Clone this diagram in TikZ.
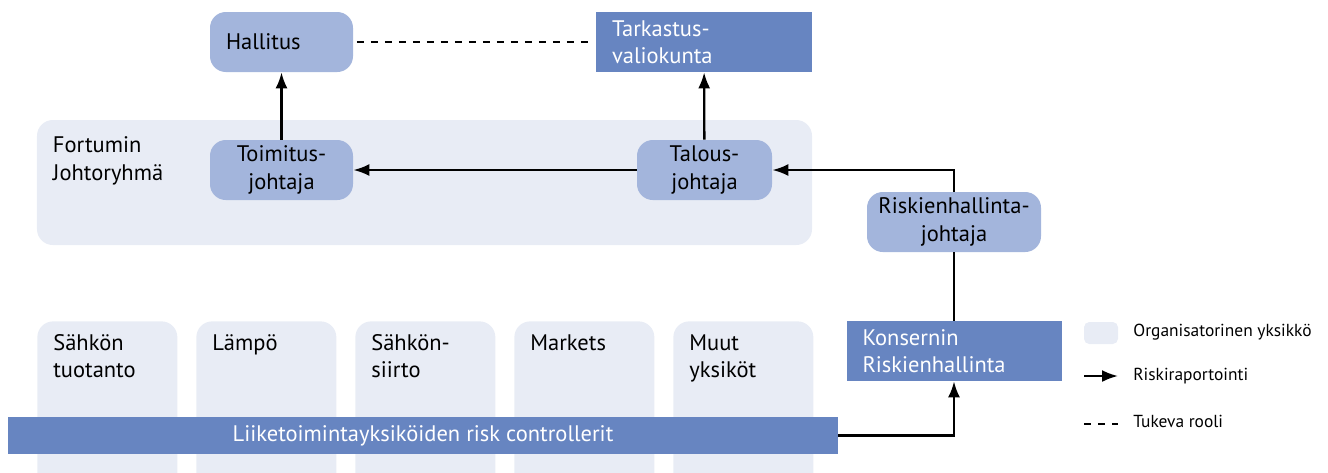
\documentclass[tikz,border=0pt]{standalone}
\usepackage{fontspec}
\setmainfont{PT Sans}
\usetikzlibrary{arrows.meta,positioning,calc}
\definecolor{unitlight}{HTML}{E8ECF5}
\definecolor{rolemid}{HTML}{A3B5DC}
\definecolor{groupdark}{HTML}{6785C1}
\tikzset{
  >=Latex,
  role/.style={
    rectangle, rounded corners=9pt, fill=rolemid, inner sep=0pt,
    minimum height=1.2cm, align=center,
    font=\fontsize{12.8}{15.6}\selectfont
  },
  roleleft/.style={role, align=left, text width=#1, inner xsep=0.32cm},
  group/.style={
    rectangle, fill=groupdark, inner sep=0pt, text=white,
    minimum height=1.2cm, align=left, text width=#1, inner xsep=0.32cm,
    font=\fontsize{12.8}{15.6}\selectfont
  },
  unit/.style={rectangle, rounded corners=9pt, fill=unitlight, inner sep=0pt},
  unittext/.style={anchor=north west, inner sep=0pt, align=left,
    font=\fontsize{12.8}{15.6}\selectfont},
  report/.style={-{Latex[length=3.2mm,width=2.4mm]}, line width=1.3pt},
  support/.style={line width=1.1pt, dash pattern=on 1.4mm off 1.4mm},
  legendtext/.style={anchor=west, inner sep=0pt, font=\fontsize{9.9}{12}\selectfont}
}

\begin{document}
\begin{tikzpicture}[x=0.2mm, y=-0.2mm]
\useasboundingbox (0,0) rectangle (1328,472);
\clip (0,0) rectangle (1328,472);
% management group background
\node[unit, minimum width=15.5cm, minimum height=2.5cm] (jory) at (424.5,182.5) {};
\node[unittext] (jorytext) at ($(jory.north west)+(16,17)$) {Fortumin\\Johtoryhmä};
% top level
\node[roleleft=2.22cm, minimum width=2.86cm] (hall) at (281.5,42) {Hallitus};
\node[group=3.68cm, minimum width=4.32cm] (tark) at (704,42) {Tarkastus-\\valiokunta};
\node[role, minimum width=2.86cm] (toim) at (281.5,170) {Toimitus-\\johtaja};
\node[role, minimum width=2.7cm] (talous) at (704.5,170) {Talous-\\johtaja};
\node[role, minimum width=3.48cm] (riskj) at (954,222) {Riskienhallinta-\\johtaja};
\node[group=3.66cm, minimum width=4.3cm] (kons) at (954,351) {Konsernin\\Riskienhallinta};
% business units
\foreach \name/\txt [count=\i from 0] in {u1/{Sähkön\\tuotanto}, u2/{Lämpö}, u3/{Sähkön-\\siirto}, u4/{Markets}, u5/{Muut\\yksiköt}} {
  \node[unit, minimum width=2.8cm, minimum height=3.6cm, anchor=north west] (\name) at (37+159*\i,321) {};
  \node[unittext] at ($(\name.north west)+(16,13)$) {\txt};
}
\node[rectangle, fill=groupdark, text=white, inner sep=0pt, minimum width=16.6cm,
  minimum height=0.74cm, font=\fontsize{12.8}{15.6}\selectfont] (bar) at (423,435.5)
  {Liiketoimintayksiköiden risk controllerit};
% connectors
\draw[report] (toim) -- (hall);
\draw[report] (talous) -- (tark);
\draw[report] (talous) -- (toim);
\draw[report] (riskj.north) |- (talous.east);
\draw[line width=1.3pt] (riskj) -- (kons);
\draw[report] (bar.east) -| (kons.south);
\draw[support, shorten <=2pt, shorten >=1.2mm] (hall) -- (tark);
% legend
\node[unit, rounded corners=3pt, minimum width=0.68cm, minimum height=0.44cm] (lgunit) at (1101,333) {};
\node[legendtext] (lgunittext) at (1133,332) {Organisatorinen yksikkö};
\coordinate (lgra) at (1084,376);
\coordinate (lgrb) at (1118,376);
\draw[report] (lgra) -- (lgrb);
\node[legendtext] (lgreport) at (1133,376) {Riskiraportointi};
\coordinate (lgsa) at (1084,424);
\coordinate (lgsb) at (1118,424);
\draw[support] (lgsa) -- (lgsb);
\node[legendtext] (lgsupport) at (1133,421) {Tukeva rooli};
\end{tikzpicture}
\end{document}
